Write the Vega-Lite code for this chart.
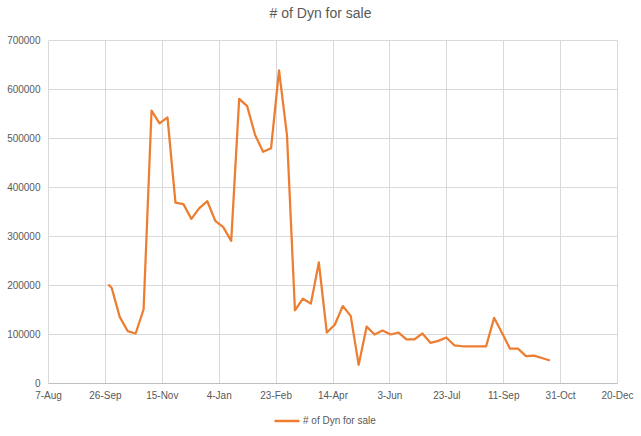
{
  "$schema": "https://vega.github.io/schema/vega-lite/v6.json",
  "autosize": "none",
  "width": 569,
  "height": 343,
  "padding": {"left": 48, "top": 40, "right": 24, "bottom": 53},
  "background": "white",
  "title": {"text": "# of Dyn for sale", "fontSize": 14, "font": "Liberation Sans", "fontWeight": "normal", "color": "#595959", "dx": -12, "offset": 14},
  "config": {"view": {"stroke": null}, "font": "Liberation Sans"},
  "data": {"values": [
    {"date": "2020-09-29", "count": 201000},
    {"date": "2020-10-02", "count": 194000},
    {"date": "2020-10-09", "count": 135000},
    {"date": "2020-10-16", "count": 106000},
    {"date": "2020-10-23", "count": 101000},
    {"date": "2020-10-30", "count": 150000},
    {"date": "2020-11-06", "count": 556000},
    {"date": "2020-11-13", "count": 530000},
    {"date": "2020-11-20", "count": 542000},
    {"date": "2020-11-27", "count": 368000},
    {"date": "2020-12-04", "count": 365000},
    {"date": "2020-12-11", "count": 335000},
    {"date": "2020-12-18", "count": 357000},
    {"date": "2020-12-25", "count": 371000},
    {"date": "2021-01-01", "count": 331000},
    {"date": "2021-01-08", "count": 318000},
    {"date": "2021-01-15", "count": 290000},
    {"date": "2021-01-22", "count": 580000},
    {"date": "2021-01-29", "count": 565000},
    {"date": "2021-02-05", "count": 506000},
    {"date": "2021-02-12", "count": 472000},
    {"date": "2021-02-19", "count": 479000},
    {"date": "2021-02-26", "count": 638000},
    {"date": "2021-03-05", "count": 506000},
    {"date": "2021-03-12", "count": 148000},
    {"date": "2021-03-19", "count": 172000},
    {"date": "2021-03-26", "count": 162000},
    {"date": "2021-04-02", "count": 246000},
    {"date": "2021-04-09", "count": 103000},
    {"date": "2021-04-16", "count": 119000},
    {"date": "2021-04-23", "count": 157000},
    {"date": "2021-04-30", "count": 137000},
    {"date": "2021-05-07", "count": 37000},
    {"date": "2021-05-14", "count": 115000},
    {"date": "2021-05-21", "count": 99000},
    {"date": "2021-05-28", "count": 107000},
    {"date": "2021-06-04", "count": 99000},
    {"date": "2021-06-11", "count": 103000},
    {"date": "2021-06-18", "count": 89000},
    {"date": "2021-06-25", "count": 89000},
    {"date": "2021-07-02", "count": 101000},
    {"date": "2021-07-09", "count": 82000},
    {"date": "2021-07-16", "count": 86000},
    {"date": "2021-07-23", "count": 93000},
    {"date": "2021-07-30", "count": 77000},
    {"date": "2021-08-06", "count": 75000},
    {"date": "2021-08-13", "count": 75000},
    {"date": "2021-08-20", "count": 75000},
    {"date": "2021-08-27", "count": 75000},
    {"date": "2021-09-03", "count": 133000},
    {"date": "2021-09-10", "count": 102000},
    {"date": "2021-09-17", "count": 70000},
    {"date": "2021-09-24", "count": 70000},
    {"date": "2021-10-01", "count": 55000},
    {"date": "2021-10-08", "count": 56000},
    {"date": "2021-10-15", "count": 51000},
    {"date": "2021-10-22", "count": 46000}
  ]},
  "mark": {"type": "line", "strokeWidth": 2.25, "strokeJoin": "round"},
  "encoding": {
    "x": {
      "field": "date", "type": "temporal",
      "scale": {"type": "utc", "domain": [{"year": 2020, "month": 8, "date": 7, "utc": true}, {"year": 2021, "month": 12, "date": 20, "utc": true}]},
      "axis": {
        "title": null,
        "labelExpr": "utcFormat(datum.value, '%-d-%b')",
        "values": [
          {"year": 2020, "month": 8, "date": 7, "utc": true},
          {"year": 2020, "month": 9, "date": 26, "utc": true},
          {"year": 2020, "month": 11, "date": 15, "utc": true},
          {"year": 2021, "month": 1, "date": 4, "utc": true},
          {"year": 2021, "month": 2, "date": 23, "utc": true},
          {"year": 2021, "month": 4, "date": 14, "utc": true},
          {"year": 2021, "month": 6, "date": 3, "utc": true},
          {"year": 2021, "month": 7, "date": 23, "utc": true},
          {"year": 2021, "month": 9, "date": 11, "utc": true},
          {"year": 2021, "month": 10, "date": 31, "utc": true},
          {"year": 2021, "month": 12, "date": 20, "utc": true}
        ],
        "grid": true, "gridColor": "#d9d9d9", "gridWidth": 1,
        "ticks": false, "domainColor": "#bfbfbf", "domainWidth": 1,
        "labelColor": "#595959", "labelFontSize": 10, "labelPadding": 7, "labelFlush": false, "labelOverlap": false
      }
    },
    "y": {
      "field": "count", "type": "quantitative",
      "scale": {"domain": [0, 700000], "nice": false},
      "axis": {
        "title": null, "values": [0, 100000, 200000, 300000, 400000, 500000, 600000, 700000],
        "format": "d", "grid": true, "gridColor": "#d9d9d9", "gridWidth": 1,
        "domain": false, "ticks": false,
        "labelColor": "#595959", "labelFontSize": 10, "labelPadding": 8
      }
    },
    "color": {
      "datum": "# of Dyn for sale",
      "scale": {"range": ["#ED7D31"]},
      "legend": {
        "title": null, "orient": "none", "legendX": 225, "legendY": 367,
        "symbolType": "stroke", "symbolSize": 625, "symbolStrokeWidth": 2.5,
        "labelColor": "#595959", "labelFontSize": 10, "labelOffset": 2
      }
    }
  }
}
